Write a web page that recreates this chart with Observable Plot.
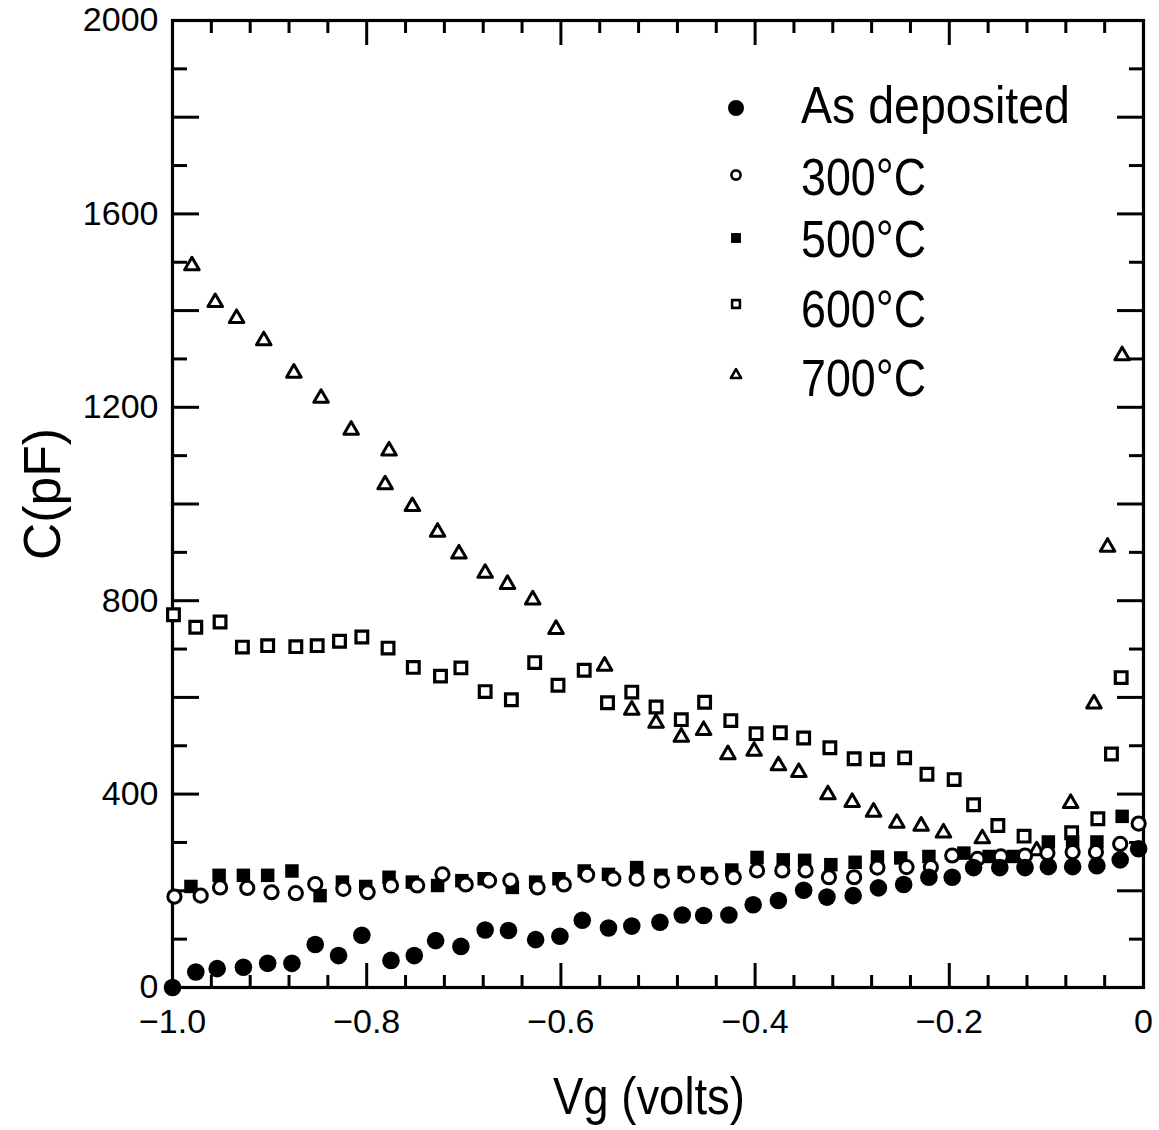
<!DOCTYPE html>
<html><head><meta charset="utf-8">
<script src="https://cdn.jsdelivr.net/npm/d3@7"></script>
<script src="https://cdn.jsdelivr.net/npm/@observablehq/plot@0.6"></script>
<style>
html,body{margin:0;padding:0;background:#fff;}
#wrap{width:1159px;height:1130px;}
</style></head><body><div id="wrap"></div>
<script>
// Series: [Vg (volts), C (pF)]
const asDeposited = [[-1.000,0],[-0.976,32],[-0.954,39],[-0.927,42],[-0.902,50],[-0.877,50],[-0.853,89],[-0.829,66],[-0.805,108],[-0.775,56],[-0.751,66],[-0.729,97],[-0.703,85],[-0.678,119],[-0.654,118],[-0.626,99],[-0.601,106],[-0.578,139],[-0.551,123],[-0.527,127],[-0.498,135],[-0.475,150],[-0.453,149],[-0.427,150],[-0.402,171],[-0.376,180],[-0.350,201],[-0.326,187],[-0.299,190],[-0.273,206],[-0.247,213],[-0.221,228],[-0.197,228],[-0.175,248],[-0.148,248],[-0.122,248],[-0.098,250],[-0.073,250],[-0.048,252],[-0.024,264],[-0.005,287]];
const t300 = [[-0.998,188],[-0.971,190],[-0.951,207],[-0.923,206],[-0.898,197],[-0.873,195],[-0.853,214],[-0.824,204],[-0.799,197],[-0.775,211],[-0.748,211],[-0.722,234],[-0.698,213],[-0.674,221],[-0.652,221],[-0.624,207],[-0.597,213],[-0.573,233],[-0.546,225],[-0.522,225],[-0.496,221],[-0.470,232],[-0.446,228],[-0.422,228],[-0.398,242],[-0.372,242],[-0.348,242],[-0.324,228],[-0.298,228],[-0.274,248],[-0.244,249],[-0.219,249],[-0.197,273],[-0.171,266],[-0.147,271],[-0.122,273],[-0.099,278],[-0.073,280],[-0.049,280],[-0.024,297],[-0.005,339]];
const t500 = [[-0.981,209],[-0.952,232],[-0.927,232],[-0.902,232],[-0.877,241],[-0.848,190],[-0.825,218],[-0.801,209],[-0.777,228],[-0.753,218],[-0.727,211],[-0.702,221],[-0.679,225],[-0.650,207],[-0.626,218],[-0.602,225],[-0.576,241],[-0.551,234],[-0.522,248],[-0.497,232],[-0.473,238],[-0.449,236],[-0.424,243],[-0.398,269],[-0.371,264],[-0.349,263],[-0.322,254],[-0.297,259],[-0.274,270],[-0.250,268],[-0.221,271],[-0.185,278],[-0.159,271],[-0.134,271],[-0.098,301],[-0.073,301],[-0.048,301],[-0.022,354]];
const t600 = [[-0.999,771],[-0.976,745],[-0.951,756],[-0.928,704],[-0.902,707],[-0.873,705],[-0.851,707],[-0.828,716],[-0.805,725],[-0.778,702],[-0.752,662],[-0.724,644],[-0.703,661],[-0.678,612],[-0.651,595],[-0.627,672],[-0.603,625],[-0.576,656],[-0.552,589],[-0.527,611],[-0.502,580],[-0.476,554],[-0.452,590],[-0.425,552],[-0.399,525],[-0.374,527],[-0.350,516],[-0.323,496],[-0.298,473],[-0.274,472],[-0.246,475],[-0.223,441],[-0.195,430],[-0.175,378],[-0.150,335],[-0.123,313],[-0.074,320],[-0.047,349],[-0.033,483],[-0.023,641]];
const t700 = [[-0.980,1493],[-0.956,1417],[-0.934,1384],[-0.906,1338],[-0.875,1271],[-0.847,1219],[-0.816,1153],[-0.777,1110],[-0.781,1040],[-0.753,995],[-0.727,942],[-0.705,897],[-0.678,857],[-0.655,834],[-0.629,802],[-0.605,741],[-0.555,665],[-0.527,574],[-0.502,547],[-0.476,518],[-0.453,532],[-0.428,482],[-0.401,489],[-0.376,459],[-0.355,445],[-0.325,399],[-0.300,383],[-0.278,363],[-0.254,340],[-0.229,334],[-0.206,320],[-0.166,308],[-0.110,283],[-0.075,381],[-0.051,587],[-0.037,911],[-0.022,1307]];

const legendLabels = ["As deposited", "300°C", "500°C", "600°C", "700°C"];
const xLabelTicks = [-1, -0.8, -0.6, -0.4, -0.2, 0];
const xMajorTicks = [-1, -0.8, -0.6, -0.4, -0.2, 0];
const xMinorTicks = [-0.96,-0.92,-0.88,-0.84,-0.76,-0.72,-0.68,-0.64,-0.56,-0.52,-0.48,-0.44,-0.36,-0.32,-0.28,-0.24,-0.16,-0.12,-0.08,-0.04];
const yLabelTicks = [0, 400, 800, 1200, 1600, 2000];
const yMajorTicks = [200, 400, 600, 800, 1000, 1200, 1400, 1600, 1800];
const yMinorTicks = [100, 300, 500, 700, 900, 1100, 1300, 1500, 1700, 1900];
const xTitle = "Vg (volts)";
const yTitle = "C(pF)";

const FONT = "'Liberation Sans', Arial, Helvetica, sans-serif";
const xfmt = d => d === 0 ? "0" : d3.format(".1f")(d);
const tickStyle = {fill: "none", stroke: "black", strokeWidth: 3};

const chart = Plot.plot({
  width: 1159, height: 1130,
  marginLeft: 172, marginRight: 16, marginTop: 20, marginBottom: 143,
  style: {fontFamily: FONT, background: "white", color: "black"},
  x: {domain: [-1, 0]},
  y: {domain: [0, 2000]},
  marks: [
    Plot.axisX(xMinorTicks, {anchor: "bottom", tickSize: -12, ...tickStyle}),
    Plot.axisX(xMajorTicks, {anchor: "bottom", tickSize: -24, ...tickStyle}),
    Plot.axisX(xMinorTicks, {anchor: "top", tickSize: -12, ...tickStyle}),
    Plot.axisX(xMajorTicks, {anchor: "top", tickSize: -24, ...tickStyle}),
    Plot.axisY(yMinorTicks, {anchor: "left", tickSize: -15, ...tickStyle}),
    Plot.axisY(yMajorTicks, {anchor: "left", tickSize: -27, ...tickStyle}),
    Plot.axisY(yMinorTicks, {anchor: "right", tickSize: -15, ...tickStyle}),
    Plot.axisY(yMajorTicks, {anchor: "right", tickSize: -27, ...tickStyle}),
    Plot.axisX(xLabelTicks, {anchor: "bottom", tickSize: 0, tickPadding: 21, fontSize: 34, tickFormat: xfmt, label: null}),
    Plot.axisY(yLabelTicks, {anchor: "left", tickSize: 0, tickPadding: 14, fontSize: 34, tickFormat: d => String(d), label: null}),
    Plot.frame({stroke: "black", strokeWidth: 3.2}),
    Plot.dot(t600, {x: d => d[0], y: d => d[1], symbol: "square", r: 6.6, stroke: "black", strokeWidth: 3.2, fill: "white"}),
    Plot.dot(t700, {x: d => d[0], y: d => d[1], symbol: "triangle", r: 5.4, stroke: "black", strokeWidth: 3, fill: "white", strokeLinejoin: "round"}),
    Plot.dot(t500, {x: d => d[0], y: d => d[1], symbol: "square", r: 7.6, fill: "black", stroke: "none"}),
    Plot.dot(t300, {x: d => d[0], y: d => d[1], symbol: "circle", r: 6.6, stroke: "black", strokeWidth: 3, fill: "white"}),
    Plot.dot(asDeposited, {x: d => d[0], y: d => d[1], symbol: "circle", r: 8.8, fill: "black", stroke: "none"})
  ]
});
document.getElementById("wrap").appendChild(chart);

// Axis titles and legend
const svg = d3.select(chart);
svg.append("text").text(xTitle)
  .attr("x", 649).attr("y", 1114).attr("text-anchor", "middle")
  .attr("font-size", 52).attr("font-family", FONT).attr("fill", "black")
  .attr("textLength", 192).attr("lengthAdjust", "spacingAndGlyphs");
svg.append("text").text(yTitle)
  .attr("transform", "translate(60,494) rotate(-90)").attr("text-anchor", "middle")
  .attr("font-size", 52).attr("font-family", FONT).attr("fill", "black")
  .attr("textLength", 132).attr("lengthAdjust", "spacingAndGlyphs");

const legendSym = [
  {sym: d3.symbolCircle, r: 8, fill: "black", stroke: "none", sw: 0},
  {sym: d3.symbolCircle, r: 4.6, fill: "white", stroke: "black", sw: 2.6},
  {sym: d3.symbolSquare, r: 5.6, fill: "black", stroke: "none", sw: 0},
  {sym: d3.symbolSquare, r: 4.4, fill: "white", stroke: "black", sw: 2.6},
  {sym: d3.symbolTriangle, r: 3.8, fill: "white", stroke: "black", sw: 2.6}
];
const legendSymY = [108, 175, 238, 304, 375];
const legendTextY = [123, 195, 257, 327, 396];
const legendTextLen = [269, 125, 125, 125, 125];
const lg = svg.append("g").attr("text-anchor", "start");
legendLabels.forEach((lab, i) => {
  const s = legendSym[i];
  lg.append("path")
    .attr("d", d3.symbol(s.sym, Math.PI * s.r * s.r)())
    .attr("transform", `translate(736,${legendSymY[i]})`)
    .attr("fill", s.fill).attr("stroke", s.stroke).attr("stroke-width", s.sw)
    .attr("stroke-linejoin", "round");
  lg.append("text").text(lab)
    .attr("x", 801).attr("y", legendTextY[i]).attr("text-anchor", "start")
    .attr("font-size", 52).attr("font-family", FONT).attr("fill", "black")
    .attr("textLength", legendTextLen[i]).attr("lengthAdjust", "spacingAndGlyphs");
});
</script>
</body></html>
